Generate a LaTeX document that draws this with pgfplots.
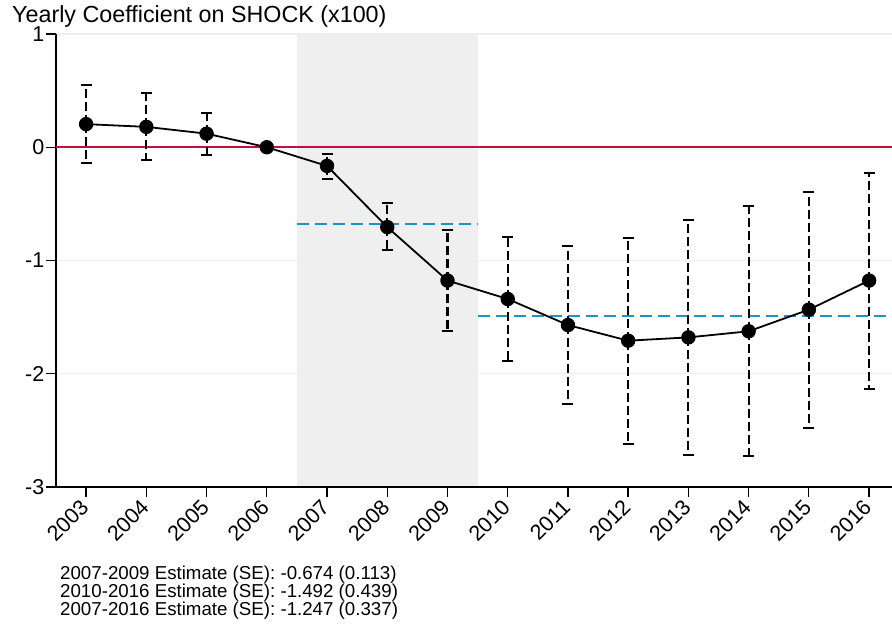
\documentclass[border=0pt]{standalone}
\usepackage{pgfplots}
\pgfplotsset{compat=1.18}
\usepackage{pgfplotstable}
\usepackage{fontspec}
\setmainfont{Liberation Sans}

\definecolor{shade}{RGB}{239,239,239}
\definecolor{gridc}{RGB}{233,239,242}
\definecolor{zeroline}{RGB}{196,16,62}
\definecolor{estblue}{RGB}{28,148,200}

\newcommand{\yr}[1]{\rotatebox{45}{#1}}

% year, point estimate, lower and upper CI bound
\pgfplotstableread{
year b lo hi
2003 0.204 -0.14 0.55
2004 0.18 -0.115 0.475
2005 0.12 -0.07 0.30
2006 0 0 0
2007 -0.165 -0.28 -0.06
2008 -0.705 -0.91 -0.49
2009 -1.177 -1.62 -0.735
2010 -1.34 -1.89 -0.79
2011 -1.57 -2.27 -0.876
2012 -1.708 -2.62 -0.80
2013 -1.679 -2.714 -0.646
2014 -1.625 -2.73 -0.519
2015 -1.434 -2.475 -0.392
2016 -1.177 -2.136 -0.227
}\coef

\begin{document}
\begin{tikzpicture}
\begin{axis}[
  set layers,
  scale only axis,
  at={(56pt,139pt)}, anchor=south west,
  width=836pt, height=453pt,
  xmin=2002.5, xmax=2016.38,
  ymin=-3, ymax=1,
  axis lines=left,
  axis line style={-, line width=1.3pt, black},
  tick align=outside,
  major tick length=10pt,
  tick style={line width=1.3pt, black},
  xtick={2003,...,2016},
  xticklabels={\yr{2003},\yr{2004},\yr{2005},\yr{2006},\yr{2007},\yr{2008},\yr{2009},
               \yr{2010},\yr{2011},\yr{2012},\yr{2013},\yr{2014},\yr{2015},\yr{2016}},
  ytick={-3,-2,-1,0,1},
  yticklabels={-3,-2,-1,0,1},
  ymajorgrids,
  grid style={gridc, line width=1.5pt},
  xticklabel style={anchor=north east, font=\fontsize{21.5}{21.5}\selectfont,
                    inner sep=0pt, xshift=4pt, yshift=-1pt},
  yticklabel style={font=\fontsize{21.5}{21.5}\selectfont, inner sep=1.5pt},
  clip=false,
]
% recession shading 2007-2009
\addplot[on layer=axis background, fill=shade, draw=none] coordinates {
  (2006.5,-3) (2006.5,1) (2009.5,1) (2009.5,-3)} -- cycle;

% zero line
\addplot[zeroline, line width=2pt] coordinates {(2002.5,0) (2016.38,0)};

% period estimates
\addplot[estblue, line width=2pt, dash pattern=on 12pt off 6pt] coordinates {(2006.5,-0.674) (2009.5,-0.674)};
\addplot[estblue, line width=2pt, dash pattern=on 12pt off 6pt] coordinates {(2009.5,-1.492) (2016.38,-1.492)};

% yearly coefficients with CIs
\addplot[black, line width=1.8pt, mark=*, mark size=6.3pt, mark options={solid},
  error bars/.cd, y dir=both, y explicit,
  error bar style={line width=2.1pt, dash pattern=on 9pt off 4pt},
  error mark options={rotate=90, mark size=5.5pt, line width=2pt, solid}]
  table[x=year, y=b,
        y error plus expr=\thisrow{hi}-\thisrow{b},
        y error minus expr=\thisrow{b}-\thisrow{lo}] {\coef};
\end{axis}

\node[anchor=base west, inner sep=0pt] at (12pt,603pt)
  {\fontsize{23.3}{23.3}\selectfont Yearly Coefficient on SHOCK (x100)};
\node[anchor=base west, inner sep=0pt] at (60pt,46pt)
  {\fontsize{18.7}{18}\selectfont 2007-2009 Estimate (SE): -0.674 (0.113)};
\node[anchor=base west, inner sep=0pt] at (60pt,28.5pt)
  {\fontsize{18.7}{18}\selectfont 2010-2016 Estimate (SE): -1.492 (0.439)};
\node[anchor=base west, inner sep=0pt] at (60pt,10pt)
  {\fontsize{18.7}{18}\selectfont 2007-2016 Estimate (SE): -1.247 (0.337)};

\pgfresetboundingbox
\path[use as bounding box] (0,0) rectangle (892pt,626pt);
\end{tikzpicture}
\end{document}
